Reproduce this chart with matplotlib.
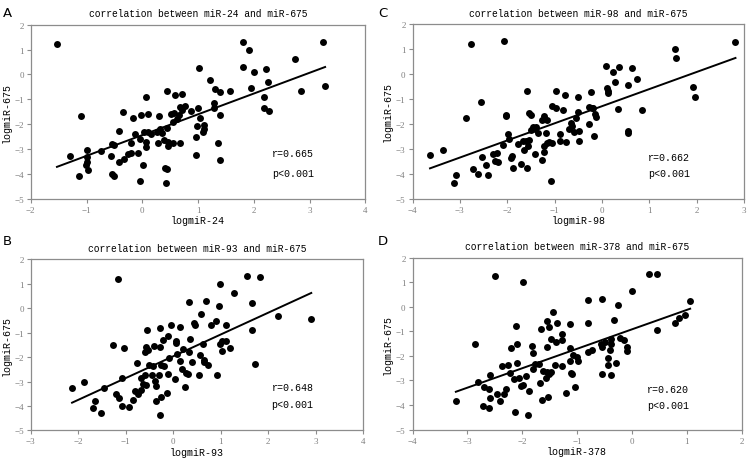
import numpy as np
import matplotlib
matplotlib.use('Agg')
import matplotlib.pyplot as plt

# Panel A: miR-24 vs miR-675
a_x = [-1.53, 1.80, 3.24, 1.91, 2.74, 1.81, 1.02, 2.22, 2.00, 1.21, 2.26, 1.95, 1.30, 1.39, 1.57,
       2.84, 3.28, 0.44, 0.71, 0.59, 0.06, 2.19, 1.29, 1.29, 2.18, 2.27, 1.00, 0.68, 0.77, 0.72,
       0.87, -0.35, 0.51, 0.57, 0.66, -0.02, 0.11, 0.30, -1.09, 1.40, 1.03, -0.17, 0.62, 0.56, 1.11,
       0.99, 0.45, 1.11, 1.09, -0.42, 0.32, 0.27, 0.35, 0.04, 0.11, 0.15, -0.13, 0.97, -0.04, -0.21,
       0.07, 0.28, 0.39, 0.46, 0.56, 0.67, 1.36, -0.54, -0.50, 0.06, 0.46, -0.99, -0.74, -0.20, -0.08,
       -0.25, -1.29, -0.56, 0.97, -0.99, -0.32, -1.00, -0.42, 1.40, 0.02, -1.01, -0.98, 0.40, 0.45,
       -1.14, -0.55, -0.50, -0.04, 0.42]
a_y = [1.22, 1.31, 1.29, 0.98, 0.62, 0.31, 0.25, 0.21, 0.08, -0.23, -0.32, -0.54, -0.59, -0.70, -0.67,
       -0.67, -0.46, -0.68, -0.78, -0.82, -0.90, -0.92, -1.13, -1.35, -1.37, -1.46, -1.34, -1.30, -1.29, -1.43,
       -1.46, -1.53, -1.58, -1.54, -1.64, -1.62, -1.60, -1.68, -1.68, -1.64, -1.77, -1.76, -1.80, -1.93, -2.04,
       -2.08, -2.14, -2.21, -2.33, -2.27, -2.20, -2.33, -2.35, -2.33, -2.33, -2.40, -2.39, -2.51, -2.59, -2.75,
       -2.71, -2.75, -2.65, -2.71, -2.76, -2.75, -2.75, -2.79, -2.84, -2.94, -2.88, -3.03, -3.07, -3.15, -3.15,
       -3.20, -3.27, -3.28, -3.23, -3.34, -3.42, -3.53, -3.54, -3.46, -3.63, -3.66, -3.83, -3.78, -3.81,
       -4.07, -4.01, -4.07, -4.28, -4.38]

# Panel B: miR-93 vs miR-675
b_x = [-1.17, 1.56, 1.84, 0.98, 1.28, 0.34, 0.70, 1.66, 0.97, 0.59, 2.21, 2.91, 0.90, 0.44, 0.46,
       0.79, 1.12, -0.04, -0.28, 0.14, -0.55, 1.66, -0.11, 0.35, 0.06, 0.07, -0.22, 1.02, 1.12, 0.98,
       0.62, -1.27, -1.04, -0.41, -0.58, -0.27, -0.60, -0.52, 0.20, 1.03, 1.19, 0.09, 0.34, -0.08, 0.57,
       0.65, -0.77, -0.50, -0.42, -0.25, -0.20, 0.15, 0.39, 0.64, 0.73, 1.73, 0.19, -0.11, 0.27, 0.32,
       -0.60, -0.44, -0.29, 0.93, 0.55, -0.67, -1.07, 0.03, -0.38, -1.88, -0.64, -0.57, -0.37, -2.13, -1.45,
       0.24, -0.67, -0.81, -0.13, -0.73, -1.21, -1.15, -0.25, -0.84, -0.37, -1.64, -1.07, -0.94, -1.69,
       -1.51, -0.27]
b_y = [1.21, 1.31, 1.29, 0.99, 0.63, 0.27, 0.30, 0.23, 0.08, -0.22, -0.31, -0.45, -0.53, -0.60, -0.69,
       -0.69, -0.67, -0.67, -0.82, -0.78, -0.90, -0.90, -1.12, -1.25, -1.36, -1.41, -1.29, -1.36, -1.32, -1.48,
       -1.46, -1.52, -1.62, -1.54, -1.59, -1.58, -1.77, -1.69, -1.66, -1.73, -1.62, -1.86, -1.77, -2.03, -1.93,
       -2.10, -2.26, -2.33, -2.37, -2.31, -2.37, -2.16, -2.18, -2.19, -2.34, -2.27, -2.48, -2.67, -2.63, -2.69,
       -2.75, -2.73, -2.73, -2.73, -2.73, -2.87, -2.84, -2.88, -2.97, -3.02, -3.08, -3.13, -3.18, -3.25, -3.28,
       -3.22, -3.33, -3.40, -3.46, -3.52, -3.51, -3.66, -3.62, -3.77, -3.80, -3.81, -4.00, -4.05, -4.07,
       -4.27, -4.38]

# Panel C: miR-98 vs miR-675
c_x = [-2.77, -2.07, 2.82, 1.55, 1.57, 0.08, 0.37, 0.63, 0.24, 0.75, 0.28, 1.92, 0.54, 0.11, 0.13,
       0.13, -0.24, -0.98, -1.59, -0.79, -0.50, 1.96, -2.55, -1.06, -0.96, -0.27, -0.20, -0.18, 0.34, 0.84,
       -0.82, -0.50, -1.53, -1.50, -2.02, -2.03, -0.15, -0.13, -1.22, -2.86, -1.15, -0.54, -1.27, -0.65, -0.27,
       -0.63, -1.46, -1.41, -1.49, -0.69, -1.40, -1.35, -1.18, -0.88, -0.60, -0.49, -1.99, -0.17, -1.97, -1.53,
       -1.61, -1.67, -1.11, -1.05, -1.17, -0.88, -0.49, -0.75, -1.77, -2.08, -1.22, -1.56, -1.64, -3.35, -1.23,
       -2.22, -2.30, -1.41, -3.63, -2.54, -1.89, -1.92, -2.25, -2.20, -1.26, -2.45, -1.71, -2.72, -1.87, -1.58,
       -3.08, -2.61, -2.41, -3.12, -1.08, 0.54, 0.55]
c_y = [1.22, 1.32, 1.30, 1.00, 0.63, 0.32, 0.27, 0.23, 0.08, -0.21, -0.31, -0.53, -0.44, -0.57, -0.74,
       -0.66, -0.70, -0.67, -0.67, -0.82, -0.90, -0.92, -1.11, -1.27, -1.36, -1.31, -1.38, -1.35, -1.39, -1.44,
       -1.46, -1.54, -1.56, -1.63, -1.63, -1.68, -1.59, -1.71, -1.67, -1.76, -1.83, -1.78, -1.86, -1.95, -2.02,
       -2.09, -2.14, -2.21, -2.23, -2.21, -2.14, -2.35, -2.35, -2.39, -2.31, -2.27, -2.42, -2.50, -2.61, -2.66,
       -2.70, -2.70, -2.74, -2.77, -2.75, -2.70, -2.67, -2.74, -2.79, -2.85, -2.89, -2.89, -3.03, -3.06, -3.14,
       -3.17, -3.21, -3.22, -3.26, -3.34, -3.28, -3.38, -3.50, -3.52, -3.46, -3.65, -3.62, -3.82, -3.78, -3.76,
       -4.06, -4.02, -4.05, -4.38, -4.28, -2.28, -2.35]

# Panel D: miR-378 vs miR-675
d_x = [-2.50, -1.99, 0.31, 0.45, 0.00, 1.06, -0.80, -0.54, -0.26, -1.44, 0.97, 0.85, -0.32, -1.54, 0.79,
       -0.81, -1.13, -1.37, 0.45, -1.65, -1.51, -2.12, -1.28, -1.48, -1.28, -1.39, -0.39, -0.21, -0.15, -2.87,
       -2.10, -0.49, -0.55, -2.20, -1.82, -1.54, -1.13, -0.57, -0.38, -0.09, -0.10, -0.40, -0.80, -0.73, -1.81,
       -1.08, -1.00, -0.43, -1.13, -0.99, -2.10, -1.77, -1.69, -0.30, -0.44, -2.36, -2.26, -1.40, -1.28, -1.81,
       -2.22, -1.62, -1.54, -1.48, -1.51, -1.11, -1.09, -0.55, -0.38, -2.58, -1.93, -2.06, -2.15, -1.56, -2.80,
       -1.68, -1.98, -2.02, -2.69, -2.60, -2.29, -1.04, -1.88, -1.21, -2.46, -2.33, -1.53, -2.58, -3.21, -2.41,
       -1.64, -2.71, -2.61, -2.13, -1.90]
d_y = [1.23, 1.00, 1.33, 1.31, 0.62, 0.23, 0.27, 0.31, 0.08, -0.20, -0.33, -0.45, -0.53, -0.58, -0.68,
       -0.68, -0.69, -0.68, -0.93, -0.91, -0.83, -0.77, -1.12, -1.30, -1.37, -1.42, -1.33, -1.26, -1.36, -1.53,
       -1.53, -1.45, -1.63, -1.68, -1.59, -1.64, -1.69, -1.52, -1.53, -1.64, -1.79, -1.75, -1.86, -1.76, -1.90,
       -1.96, -2.06, -2.10, -2.20, -2.22, -2.28, -2.33, -2.34, -2.30, -2.37, -2.40, -2.37, -2.37, -2.43, -2.53,
       -2.70, -2.60, -2.67, -2.64, -2.75, -2.71, -2.75, -2.75, -2.76, -2.78, -2.82, -2.89, -2.95, -2.91, -3.05,
       -3.09, -3.18, -3.22, -3.27, -3.36, -3.33, -3.25, -3.43, -3.50, -3.56, -3.56, -3.66, -3.71, -3.85, -3.83,
       -3.81, -4.04, -4.11, -4.30, -4.42]

panels = [
    # letter, x, y, title, xlabel, xlim, r text, axes rect, text pos
    ('A', a_x, a_y, 'correlation between miR-24 and miR-675', 'logmiR-24', (-2, 4), 'r=0.665',
     [0.041, 0.566, 0.446, 0.378], (0.721, 0.26, 0.148)),
    ('C', c_x, c_y, 'correlation between miR-98 and miR-675', 'logmiR-98', (-4, 3), 'r=0.662',
     [0.550, 0.566, 0.442, 0.379], (0.71, 0.24, 0.146)),
    ('B', b_x, b_y, 'correlation between miR-93 and miR-675', 'logmiR-93', (-3, 4), 'r=0.648',
     [0.041, 0.062, 0.443, 0.372], (0.725, 0.255, 0.155)),
    ('D', d_x, d_y, 'correlation between miR-378 and miR-675', 'logmiR-378', (-4, 2), 'r=0.620',
     [0.550, 0.064, 0.439, 0.374], (0.712, 0.235, 0.144)),
]

mono = 'Liberation Mono'
tickfont = 'Liberation Serif'
gray = '#8c8c8c'

fig = plt.figure(figsize=(7.5, 4.6), dpi=100)

for letter, xs, ys, title, xlabel, xlim, rtext, rect, tpos in panels:
    ax = fig.add_axes(rect)
    xs = np.array(xs)
    ys = np.array(ys)
    ax.scatter(xs, ys, s=25, color='black', linewidths=0, zorder=3)

    # least squares trend line
    k, b = np.polyfit(xs, ys, 1)
    lx = np.array([xs.min(), xs.max()])
    ax.plot(lx, k * lx + b, color='black', lw=1.4, zorder=2)

    ax.set_xlim(xlim)
    ax.set_ylim(-5, 2)
    ax.set_xticks(np.arange(xlim[0], xlim[1] + 1))
    ax.set_yticks(np.arange(-5, 3))
    for sp in ax.spines.values():
        sp.set_color(gray)
        sp.set_linewidth(0.9)
    ax.tick_params(direction='out', length=3, width=0.8, color=gray, labelcolor='#808080',
                   labelsize=6.5, pad=2)
    for lab in ax.get_xticklabels() + ax.get_yticklabels():
        lab.set_fontfamily(tickfont)

    ax.set_title(title, fontfamily=mono, fontsize=6.9, pad=6)
    ax.set_xlabel(xlabel, fontfamily=mono, fontsize=7.2, labelpad=1)
    ax.set_ylabel('logmiR-675', fontfamily=mono, fontsize=7.2, labelpad=2)

    ax.text(tpos[0], tpos[1], rtext, transform=ax.transAxes, fontfamily=mono, fontsize=7.2,
            va='center', ha='left')
    ax.text(tpos[0], tpos[2], 'p<0.001', transform=ax.transAxes, fontfamily=mono, fontsize=7.2,
            va='center', ha='left')

    # panel letter in the top left corner of its quarter
    fx = 0.004 if rect[0] < 0.5 else 0.504
    fy = 0.985 if rect[1] > 0.5 else 0.49
    fig.text(fx, fy, letter, fontsize=9.5, va='top', ha='left', fontfamily='DejaVu Sans')

fig.savefig('out.png', dpi=100)
